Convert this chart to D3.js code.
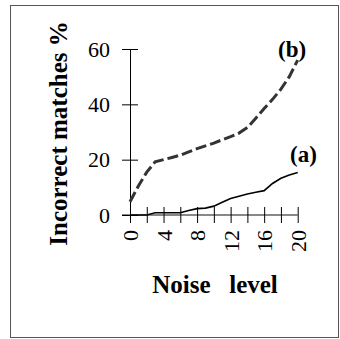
<!DOCTYPE html>
<html lang="en">
  <head>
	<meta charset="utf-8"/>
	<title>Incorrect matches vs noise level</title>
	<script src="https://cdn.jsdelivr.net/npm/d3@7"></script>
	<style>
	body { margin: 0; background: #fff; }
	svg text { font-family: "Liberation Serif", "Times New Roman", serif !important; fill: #000; }
	</style>
  </head>
  <body>
	<svg id="chart"></svg>
	<script>
		// values
		const noise = [0,1,2,3,4,5,6,7,8,9,10,11,12,13,14,15,16,17,18,19,20]
		const seriesA = [0,0,0,0.8,0.8,0.8,0.8,1.6,2.3,2.5,3.2,4.6,6.0,6.8,7.6,8.2,8.8,11.4,13.3,14.5,15.4]
		const seriesB = [4.8,10.5,15.5,19.2,20,20.8,21.6,22.8,24,25,26,27.2,28.3,29.6,31.6,35,38.5,41.8,45.5,50,56]
		const xTicks = [0,2,4,6,8,10,12,14,16,18,20]
		const yTicks = [0,20,40,60]

		const width = 340
		const height = 339

		const svg = d3.select('#chart')
		.attr('width', width)
		.attr('height', height)

		// outer frame
		svg.append('rect')
		.attr('x', 10.5).attr('y', 5.5)
		.attr('width', 328).attr('height', 332)
		.attr('fill', 'none')
		.attr('stroke', '#555')

		const x = d3.scaleLinear().domain([0, 20]).range([130, 297.7])
		const y = d3.scaleLinear().domain([0, 60]).range([215, 49])

		// x axis (gray line, ticks crossing it)
		const xAxis = svg.append('g')
		.attr('transform', `translate(0,${y(0)})`)
		.call(d3.axisBottom(x).tickValues(xTicks).tickSize(8).tickSizeOuter(0)
			.tickFormat(d => d % 4 === 0 ? d : ''))
		xAxis.attr('font-family', null)
		xAxis.select('.domain').attr('stroke', '#888').attr('stroke-width', 2)
			.attr('d', `M122,0H${x(20)}`)
		xAxis.selectAll('.tick line').attr('y1', -8).attr('stroke', '#000')
		xAxis.selectAll('.tick text')
		.attr('font-size', 22)
		.attr('text-anchor', 'end')
		.attr('transform', 'translate(0,15) rotate(-90)')
		.attr('x', 0).attr('y', 0).attr('dy', '0.35em')

		// y axis
		const yAxis = svg.append('g')
		.attr('transform', `translate(${x(0)},0)`)
		.call(d3.axisLeft(y).tickValues(yTicks).tickSize(8).tickSizeOuter(0))
		yAxis.attr('font-family', null)
		yAxis.select('.domain').attr('stroke', '#000')
		yAxis.selectAll('.tick line').attr('x1', 8)
		yAxis.selectAll('.tick text')
		.attr('font-size', 22)
		.attr('x', -20)

		const line = d3.line()
		.x((d, i) => x(noise[i]))
		.y(d => y(d))

		svg.append('path')
		.datum(seriesA)
		.attr('d', line)
		.attr('fill', 'none')
		.attr('stroke', '#000')
		.attr('stroke-width', 1.6)

		svg.append('path')
		.datum(seriesB)
		.attr('d', line)
		.attr('fill', 'none')
		.attr('stroke', '#333')
		.attr('stroke-width', 3)
		.attr('stroke-dasharray', '11,4')

		// curve labels
		svg.append('text').attr('x', 278).attr('y', 57)
		.attr('font-size', 23).attr('font-weight', 'bold').text('(b)')
		svg.append('text').attr('x', 290).attr('y', 162)
		.attr('font-size', 23).attr('font-weight', 'bold').text('(a)')

		// axis titles
		svg.append('text')
		.attr('transform', 'translate(66.5,133.5) rotate(-90)')
		.attr('text-anchor', 'middle')
		.attr('font-size', 25).attr('font-weight', 'bold')
		.text('Incorrect matches %')

		svg.append('text')
		.attr('x', 215).attr('y', 293)
		.attr('text-anchor', 'middle')
		.attr('font-size', 25).attr('font-weight', 'bold')
		.style('white-space', 'pre')
		.text('Noise   level')
	</script>
  </body>
</html>
